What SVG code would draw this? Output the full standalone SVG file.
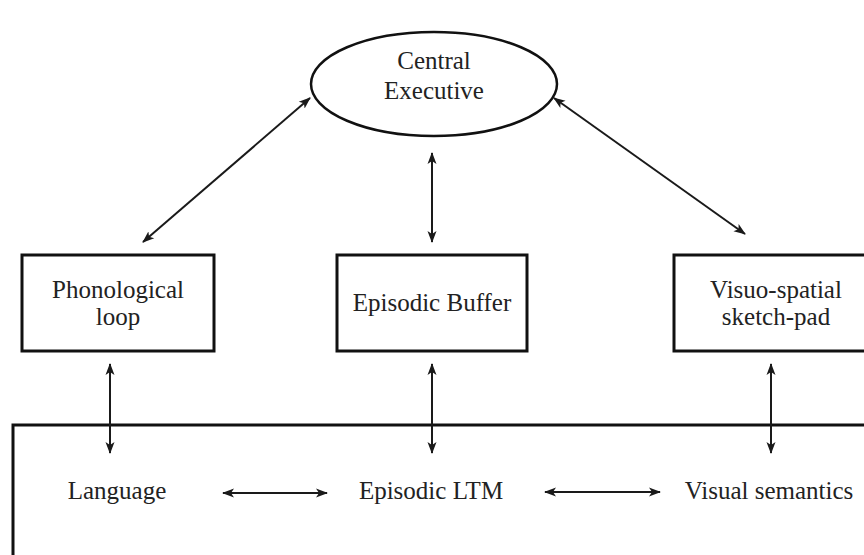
<svg xmlns="http://www.w3.org/2000/svg" width="864" height="555" viewBox="0 0 864 555">
<style>
  .box { fill: #fff; stroke: #111; stroke-width: 3; }
  .ell { fill: #fff; stroke: #111; stroke-width: 2.5; }
  .lbl { font-family: "Liberation Serif", "Times New Roman", serif; font-size: 25px; fill: #222; text-anchor: middle; }
  .conn { stroke: #1a1a1a; stroke-width: 2; fill: none; marker-start: url(#ah); marker-end: url(#ah); }
</style>
<defs>
  <marker id="ah" viewBox="0 0 12 10" refX="11" refY="5" markerWidth="12" markerHeight="10" markerUnits="userSpaceOnUse" orient="auto-start-reverse">
    <path d="M0,0.5 L12,5 L0,9.5 L3,5 z" fill="#1a1a1a"/>
  </marker>
</defs>
<rect width="864" height="555" fill="#fff"/>

<g id="ltm">
  <rect class="box" x="13" y="425" width="900" height="200"/>
</g>

<g id="central-executive">
  <ellipse class="ell" cx="434" cy="84" rx="123" ry="52"/>
  <text class="lbl" x="434" y="69">Central</text>
  <text class="lbl" x="434" y="99">Executive</text>
</g>

<g id="phonological-loop">
  <rect class="box" x="22" y="255" width="192" height="96"/>
  <text class="lbl" x="118" y="298">Phonological</text>
  <text class="lbl" x="118" y="325">loop</text>
</g>

<g id="episodic-buffer">
  <rect class="box" x="337" y="255" width="190" height="96"/>
  <text class="lbl" x="432" y="311">Episodic Buffer</text>
</g>

<g id="visuo-spatial">
  <rect class="box" x="674" y="255" width="200" height="96"/>
  <text class="lbl" x="776" y="298">Visuo-spatial</text>
  <text class="lbl" x="776" y="325">sketch-pad</text>
</g>

<g id="language">
  <text class="lbl" x="117" y="499">Language</text>
</g>
<g id="episodic-ltm">
  <text class="lbl" x="431" y="499">Episodic LTM</text>
</g>
<g id="visual-semantics">
  <text class="lbl" x="769" y="499">Visual semantics</text>
</g>

<g id="connectors">
  <line class="conn" x1="310" y1="98" x2="143" y2="242"/>
  <line class="conn" x1="554" y1="98" x2="745" y2="234"/>
  <line class="conn" x1="432" y1="153" x2="432" y2="242"/>
  <line class="conn" x1="110" y1="364" x2="110" y2="453"/>
  <line class="conn" x1="432" y1="364" x2="432" y2="453"/>
  <line class="conn" x1="771" y1="364" x2="771" y2="453"/>
  <line class="conn" x1="223" y1="493" x2="327" y2="493"/>
  <line class="conn" x1="545" y1="492" x2="660" y2="492"/>
</g>
</svg>
